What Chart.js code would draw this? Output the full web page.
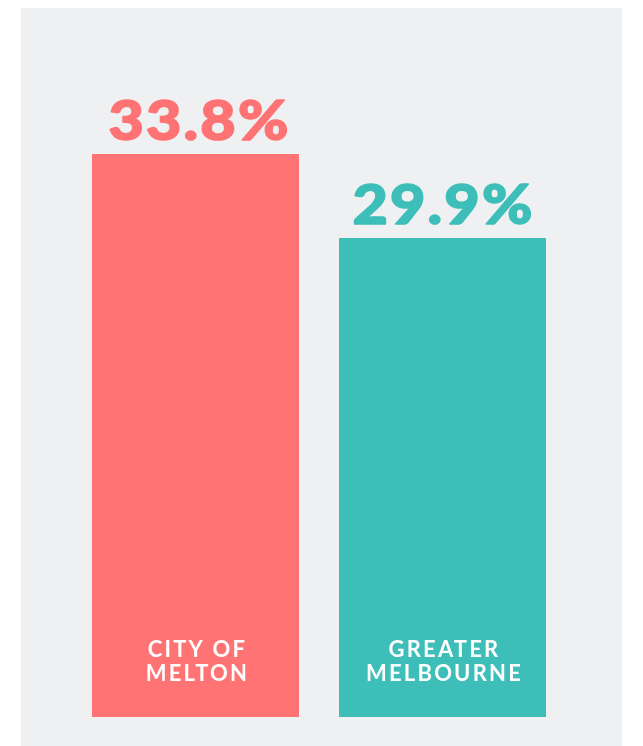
<!DOCTYPE html>
<html>
<head>
<meta charset="utf-8">
<script src="https://cdn.jsdelivr.net/npm/chart.js@4"></script>
<style>
  html, body { margin: 0; padding: 0; background: #ffffff; }
  #panel {
    position: absolute; left: 21px; top: 8px;
    width: 601px; height: 738px;
    background: #eff0f2;
  }
  #chart { display: block; }
</style>
</head>
<body>
<div id="panel"><canvas id="chart" width="601" height="738"></canvas></div>
<script>
// Share of households (%) — City of Melton vs Greater Melbourne
const categories = [["CITY OF", "MELTON"], ["GREATER", "MELBOURNE"]];
const values = [33.8, 29.9];
const barColors = ["#ff7375", "#3dbeb9"];

// Draws the percentage above each bar and the area name inside its base
const barText = {
  id: "barText",
  afterDatasetsDraw(chart) {
    const ctx = chart.ctx;
    const meta = chart.getDatasetMeta(0);
    const yScale = chart.scales.y;
    const base = yScale.getPixelForValue(yScale.min);
    meta.data.forEach((bar, i) => {
      const label = values[i].toFixed(1) + "%";
      ctx.save();
      // heavy, slightly widened figure above the bar
      ctx.translate(bar.x + 1 + (i === 0 ? 3 : 0), bar.y - 14);
      ctx.scale(1.09, 1);
      ctx.textAlign = "center";
      ctx.textBaseline = "alphabetic";
      ctx.fillStyle = barColors[i];
      ctx.strokeStyle = barColors[i];
      ctx.lineWidth = 1.6;
      ctx.lineJoin = "round";
      ctx.font = "900 56px Lato";
      ctx.letterSpacing = "2px";
      ctx.fillText(label, 0, 0);
      ctx.strokeText(label, 0, 0);
      ctx.restore();

      ctx.save();
      ctx.textAlign = "center";
      ctx.textBaseline = "alphabetic";
      ctx.fillStyle = "#ffffff";
      ctx.font = "700 22px Lato";
      ctx.letterSpacing = "2.2px";
      const lines = categories[i];
      lines.forEach((line, k) => {
        const fromBottom = (lines.length - 1 - k) * 24;
        ctx.fillText(line, bar.x + 2, base - 36 - fromBottom);
      });
      ctx.restore();
    });
  }
};

new Chart(document.getElementById("chart"), {
  type: "bar",
  data: {
    labels: categories.map(c => c.join(" ")),
    datasets: [{
      data: values,
      backgroundColor: barColors,
      borderWidth: 0,
      barPercentage: 1,
      categoryPercentage: 0.838
    }]
  },
  options: {
    responsive: false,
    animation: false,
    layout: { padding: { left: 51, right: 56, top: 12.5, bottom: 29 } },
    plugins: { legend: { display: false }, tooltip: { enabled: false } },
    scales: {
      x: { display: false },
      y: { display: false, min: 7.66, max: 40 }
    }
  },
  plugins: [barText]
});
</script>
</body>
</html>
